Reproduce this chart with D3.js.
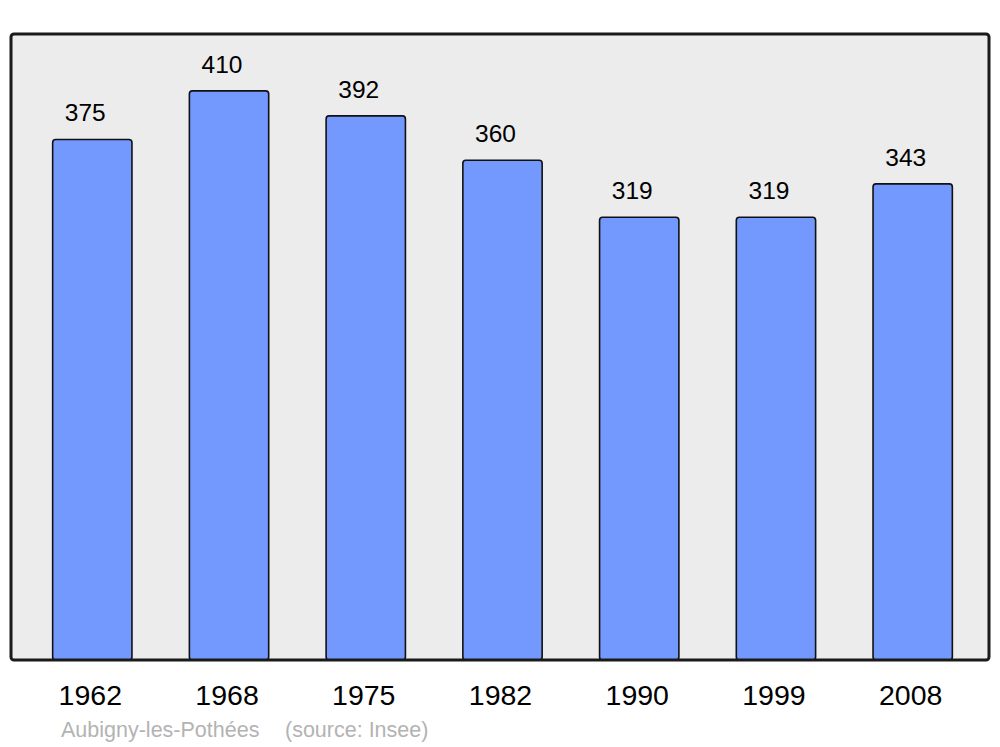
<!DOCTYPE html>
<html>
<head>
<meta charset="utf-8">
<script src="https://cdn.jsdelivr.net/npm/d3@7"></script>
<style>
  body { margin: 0; background: #fff; }
  text { font-family: "Liberation Sans", Arial, sans-serif; }
</style>
</head>
<body>
<div id="chart"></div>
<script>
const years = ["1962", "1968", "1975", "1982", "1990", "1999", "2008"];
const population = [375, 410, 392, 360, 319, 319, 343];
const commune = "Aubigny-les-Pothées";
const source = "(source: Insee)";

const width = 1000;
const height = 747;
const panel = { left: 11, right: 989, top: 34, bottom: 660 };

const data = years.map((y, i) => ({ year: y, value: population[i] }));

const svg = d3.select("#chart")
    .append("svg")
    .attr("width", width)
    .attr("height", height);

const x = d3.scaleBand()
    .domain(years)
    .range([13, 992])
    .paddingInner(0.42)
    .paddingOuter(0.29);

const y = d3.scaleLinear()
    .domain([0, d3.max(population) * 1.1])
    .range([panel.bottom, panel.top]);

svg.append("rect")
    .attr("x", panel.left)
    .attr("y", panel.top)
    .attr("width", panel.right - panel.left)
    .attr("height", panel.bottom - panel.top)
    .attr("rx", 3)
    .attr("fill", "#ececec");

svg.selectAll(".bar")
    .data(data)
    .enter()
    .append("rect")
    .attr("class", "bar")
    .attr("x", (d) => x(d.year))
    .attr("y", (d) => y(d.value))
    .attr("width", x.bandwidth())
    .attr("height", (d) => panel.bottom - y(d.value))
    .attr("rx", 3)
    .attr("fill", "#7399ff")
    .attr("stroke", "#111")
    .attr("stroke-width", 1.6);

// frame drawn last so the bar bottoms sit on it
svg.append("rect")
    .attr("x", panel.left)
    .attr("y", panel.top)
    .attr("width", panel.right - panel.left)
    .attr("height", panel.bottom - panel.top)
    .attr("rx", 3)
    .attr("fill", "none")
    .attr("stroke", "#1a1a1a")
    .attr("stroke-width", 3);

svg.selectAll(".value")
    .data(data)
    .enter()
    .append("text")
    .attr("class", "value")
    .attr("x", (d) => x(d.year) + x.bandwidth() / 2 - 7)
    .attr("y", (d) => y(d.value) - 18)
    .attr("text-anchor", "middle")
    .style("font-size", "24.5px")
    .attr("fill", "#000")
    .text((d) => d.value);

const axis = svg.append("g")
    .attr("transform", `translate(-2,${panel.bottom})`)
    .call(d3.axisBottom(x).tickSize(0).tickPadding(0));
axis.select(".domain").remove();
axis.selectAll("text")
    .attr("y", 45)
    .attr("dy", 0)
    .style("font-size", "28.5px")
    .style("font-family", "'Liberation Sans', Arial, sans-serif")
    .attr("fill", "#000");

svg.append("text")
    .attr("x", 61)
    .attr("y", 737)
    .style("font-size", "21.5px")
    .attr("fill", "#b3b3b3")
    .text(commune);

svg.append("text")
    .attr("x", 285)
    .attr("y", 737)
    .style("font-size", "21.5px")
    .attr("fill", "#b3b3b3")
    .text(source);
</script>
</body>
</html>
